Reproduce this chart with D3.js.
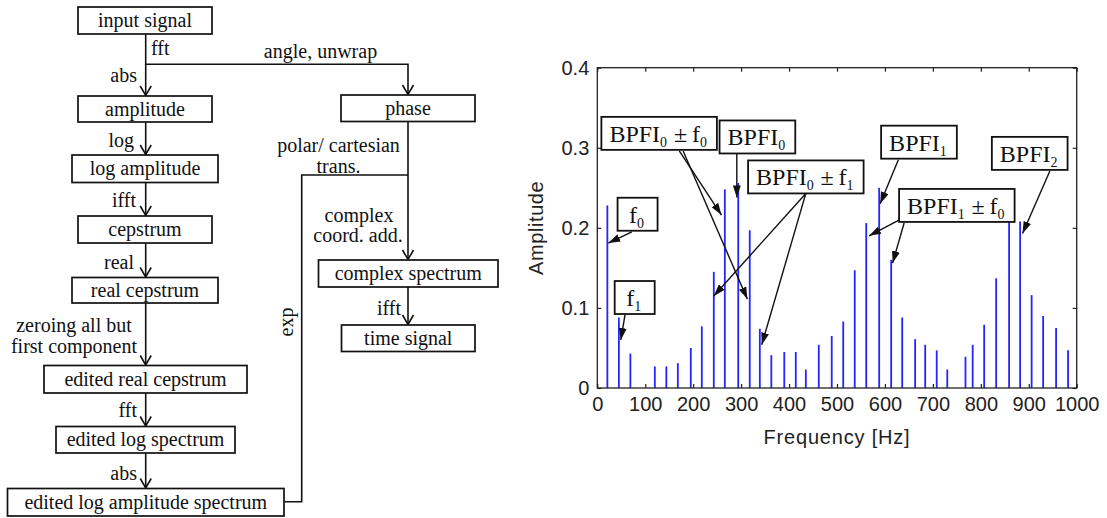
<!DOCTYPE html>
<html>
<head>
<meta charset="utf-8">
<script src="https://cdn.jsdelivr.net/npm/d3@7"></script>
<style>
  body { margin: 0; background: #fff; }
  svg { display: block; }
</style>
</head>
<body>
<div id="chart"></div>
<script>
// spectrum lines
const freqs = [21, 45, 69, 120, 144, 168, 195, 218, 243, 266, 294, 318, 339, 363, 390, 414, 435, 462,
    489, 513, 537, 561, 588, 613, 636, 663, 684, 708, 730, 768, 783, 807, 832, 859, 882, 906, 930, 957, 982];
const amps = [0.228, 0.088, 0.043, 0.027, 0.027, 0.031, 0.050, 0.077, 0.145, 0.248, 0.256, 0.197, 0.074,
    0.041, 0.045, 0.045, 0.023, 0.054, 0.065, 0.083, 0.147, 0.206, 0.250, 0.160, 0.088, 0.061, 0.054,
    0.047, 0.023, 0.039, 0.054, 0.079, 0.137, 0.215, 0.208, 0.116, 0.090, 0.075, 0.047];
const xTicks = [0, 100, 200, 300, 400, 500, 600, 700, 800, 900, 1000];
const yTicks = [0, 0.1, 0.2, 0.3, 0.4];

// annotation labels: text parts ([text, isSub]), box centre and arrows in data units
const annLabels = [
    [["f", 0], ["0", 1]],
    [["f", 0], ["1", 1]],
    [["BPFI", 0], ["0", 1], ["\u2009\u00b1\u2009f", 0], ["0", 1]],
    [["BPFI", 0], ["0", 1]],
    [["BPFI", 0], ["0", 1], ["\u2009\u00b1\u2009f", 0], ["1", 1]],
    [["BPFI", 0], ["1", 1]],
    [["BPFI", 0], ["1", 1], ["\u2009\u00b1\u2009f", 0], ["0", 1]],
    [["BPFI", 0], ["2", 1]]
];
const annCenters = [[84, 0.217], [78, 0.113], [129, 0.318], [334, 0.3135], [435, 0.2636],
    [671, 0.307], [750, 0.228], [902, 0.293]];
const annArrows = [
    [[72, 0.195], [23, 0.181]],
    [[58, 0.092], [49, 0.060]],
    [[171, 0.296], [259, 0.216]],
    [[179, 0.296], [313, 0.111]],
    [[291, 0.293], [291, 0.238]],
    [[435, 0.243], [243, 0.115]],
    [[435, 0.243], [343, 0.054]],
    [[628, 0.285], [590, 0.230]],
    [[633, 0.211], [567, 0.190]],
    [[640, 0.206], [616, 0.156]],
    [[944, 0.271], [887, 0.193]]
];

// flow chart of the processing steps (pixel layout)
const flowBoxes = [
    { label: "input signal", x0: 78, y0: 7, x1: 212, y1: 34 },
    { label: "amplitude", x0: 78, y0: 96, x1: 212, y1: 122 },
    { label: "log amplitude", x0: 72, y0: 155, x1: 218, y1: 182.5 },
    { label: "cepstrum", x0: 78, y0: 216, x1: 212, y1: 243 },
    { label: "real cepstrum", x0: 72, y0: 277.5, x1: 218, y1: 303 },
    { label: "edited real cepstrum", x0: 44, y0: 365.5, x1: 247, y1: 393 },
    { label: "edited log spectrum", x0: 56, y0: 426.5, x1: 235, y1: 453 },
    { label: "edited log amplitude spectrum", x0: 7.5, y0: 488.5, x1: 284, y1: 516 },
    { label: "phase", x0: 341, y0: 95, x1: 475, y1: 121.5 },
    { label: "complex spectrum", x0: 318.5, y0: 260, x1: 498, y1: 287 },
    { label: "time signal", x0: 341.5, y0: 325, x1: 475, y1: 351.5 }
];
const mainX = 145.7, sideX = 408;
const flowLinks = [
    { pts: [[mainX, 34], [mainX, 96]], arrow: true },
    { pts: [[mainX, 64.3], [sideX, 64.3], [sideX, 95]], arrow: true },
    { pts: [[mainX, 122], [mainX, 155]], arrow: true },
    { pts: [[mainX, 182.5], [mainX, 216]], arrow: true },
    { pts: [[mainX, 243], [mainX, 277.5]], arrow: true },
    { pts: [[mainX, 303], [mainX, 365.5]], arrow: true },
    { pts: [[mainX, 393], [mainX, 426.5]], arrow: true },
    { pts: [[mainX, 453], [mainX, 488.5]], arrow: true },
    { pts: [[284, 501.7], [301.7, 501.7], [301.7, 175], [sideX, 175]], arrow: false },
    { pts: [[sideX, 121.5], [sideX, 260]], arrow: true },
    { pts: [[sideX, 287], [sideX, 325]], arrow: true }
];
const flowTexts = [
    { t: "fft", x: 151, y: 48, a: "start" },
    { t: "abs", x: 137, y: 75, a: "end" },
    { t: "angle, unwrap", x: 320.5, y: 51, a: "middle" },
    { t: "log", x: 134, y: 140, a: "end" },
    { t: "ifft", x: 136, y: 200, a: "end" },
    { t: "real", x: 134, y: 262, a: "end" },
    { t: "zeroing all but", x: 74, y: 325, a: "middle" },
    { t: "first component", x: 74, y: 346.5, a: "middle" },
    { t: "fft", x: 137, y: 410, a: "end" },
    { t: "abs", x: 137, y: 473, a: "end" },
    { t: "polar/ cartesian", x: 338.5, y: 145, a: "middle" },
    { t: "trans.", x: 338.5, y: 166, a: "middle" },
    { t: "complex", x: 359, y: 215, a: "middle" },
    { t: "coord. add.", x: 358, y: 235, a: "middle" },
    { t: "ifft", x: 401, y: 308, a: "end" }
];

const W = 1107, H = 518;
const svg = d3.select("#chart").append("svg")
    .attr("width", W)
    .attr("height", H)
    .style("background", "#fff");

// ---------- flow chart ----------
const serif = "'Liberation Serif', 'Times New Roman', serif";
const flow = svg.append("g").attr("class", "flow");

flow.selectAll("polyline.link")
    .data(flowLinks)
    .enter().append("polyline")
    .attr("class", "link")
    .attr("points", d => d.pts.map(p => p.join(",")).join(" "))
    .attr("fill", "none")
    .attr("stroke", "#111")
    .attr("stroke-width", 1.6);

flow.selectAll("polyline.head")
    .data(flowLinks.filter(d => d.arrow))
    .enter().append("polyline")
    .attr("class", "head")
    .attr("points", d => {
        const [x, y] = d.pts[d.pts.length - 1];
        return `${x - 5.5},${y - 10} ${x},${y - 0.5} ${x + 5.5},${y - 10}`;
    })
    .attr("fill", "none")
    .attr("stroke", "#111")
    .attr("stroke-width", 1.6);

flow.selectAll("rect.box")
    .data(flowBoxes)
    .enter().append("rect")
    .attr("class", "box")
    .attr("x", d => d.x0)
    .attr("y", d => d.y0)
    .attr("width", d => d.x1 - d.x0)
    .attr("height", d => d.y1 - d.y0)
    .attr("fill", "#fff")
    .attr("stroke", "#111")
    .attr("stroke-width", 1.7);

flow.selectAll("text.boxlabel")
    .data(flowBoxes)
    .enter().append("text")
    .attr("class", "boxlabel")
    .attr("x", d => (d.x0 + d.x1) / 2)
    .attr("y", d => (d.y0 + d.y1) / 2)
    .attr("dy", "0.33em")
    .attr("text-anchor", "middle")
    .style("font-family", serif)
    .style("font-size", "20px")
    .style("fill", "#111")
    .text(d => d.label);

flow.selectAll("text.steplabel")
    .data(flowTexts)
    .enter().append("text")
    .attr("class", "steplabel")
    .attr("x", d => d.x)
    .attr("y", d => d.y)
    .attr("dy", "0.33em")
    .attr("text-anchor", d => d.a)
    .style("font-family", serif)
    .style("font-size", "20px")
    .style("fill", "#111")
    .text(d => d.t);

flow.append("text")
    .attr("transform", "translate(286.5,322) rotate(-90)")
    .attr("dy", "0.33em")
    .attr("text-anchor", "middle")
    .style("font-family", serif)
    .style("font-size", "20px")
    .style("fill", "#111")
    .text("exp");

// ---------- spectrum plot ----------
const sans = "'Liberation Sans', Arial, sans-serif";
const x = d3.scaleLinear().domain([0, 1000]).range([597.3, 1076.7]);
const y = d3.scaleLinear().domain([0, 0.4]).range([388, 67.7]);
const plot = svg.append("g").attr("class", "plot");

plot.selectAll("line.bar")
    .data(freqs.map((f, i) => ({ f, a: amps[i] })))
    .enter().append("line")
    .attr("class", "bar")
    .attr("x1", d => x(d.f))
    .attr("x2", d => x(d.f))
    .attr("y1", y(0))
    .attr("y2", d => y(d.a))
    .attr("stroke", "#2424ff")
    .attr("stroke-width", 1.8);

function styleAxis(g, showText) {
    g.select(".domain").remove();
    g.selectAll(".tick line").attr("stroke", "#222").attr("stroke-width", 1.2);
    g.selectAll(".tick text")
        .style("font-family", sans)
        .style("font-size", "20px")
        .style("fill", "#222")
        .style("display", showText ? null : "none");
}

plot.append("g")
    .attr("transform", `translate(0,${y(0)})`)
    .call(d3.axisBottom(x).tickValues(xTicks).tickFormat(d3.format("d"))
        .tickSizeInner(-4).tickSizeOuter(0).tickPadding(9))
    .call(g => styleAxis(g, true));

plot.append("g")
    .attr("transform", `translate(0,${y(0.4)})`)
    .call(d3.axisTop(x).tickValues(xTicks).tickSizeInner(-4).tickSizeOuter(0))
    .call(g => styleAxis(g, false));

plot.append("g")
    .attr("transform", `translate(${x(0)},0)`)
    .call(d3.axisLeft(y).tickValues(yTicks).tickFormat(d => d === 0 ? "0" : d3.format(".1f")(d))
        .tickSizeInner(-4).tickSizeOuter(0).tickPadding(8))
    .call(g => styleAxis(g, true));

plot.append("g")
    .attr("transform", `translate(${x(1000)},0)`)
    .call(d3.axisRight(y).tickValues(yTicks).tickSizeInner(-4).tickSizeOuter(0))
    .call(g => styleAxis(g, false));

plot.append("rect")
    .attr("x", x(0))
    .attr("y", y(0.4))
    .attr("width", x(1000) - x(0))
    .attr("height", y(0) - y(0.4))
    .attr("fill", "none")
    .attr("stroke", "#222")
    .attr("stroke-width", 1.3);

plot.append("text")
    .attr("x", (x(0) + x(1000)) / 2)
    .attr("y", 437)
    .attr("dy", "0.35em")
    .attr("text-anchor", "middle")
    .style("font-family", sans)
    .style("font-size", "20px")
    .style("letter-spacing", "0.8px")
    .style("fill", "#222")
    .text("Frequency [Hz]");

plot.append("text")
    .attr("transform", `translate(536,${(y(0) + y(0.4)) / 2}) rotate(-90)`)
    .attr("dy", "0.35em")
    .attr("text-anchor", "middle")
    .style("font-family", sans)
    .style("font-size", "20px")
    .style("letter-spacing", "0.6px")
    .style("fill", "#222")
    .text("Amplitude");

// annotation arrows
svg.append("defs").append("marker")
    .attr("id", "tri")
    .attr("viewBox", "0 0 12 8")
    .attr("refX", 12)
    .attr("refY", 4)
    .attr("markerWidth", 12)
    .attr("markerHeight", 8)
    .attr("markerUnits", "userSpaceOnUse")
    .attr("orient", "auto")
    .append("path")
    .attr("d", "M0,0 L12,4 L0,8 Z")
    .attr("fill", "#111");

plot.selectAll("line.ann")
    .data(annArrows)
    .enter().append("line")
    .attr("class", "ann")
    .attr("x1", d => x(d[0][0]))
    .attr("y1", d => y(d[0][1]))
    .attr("x2", d => x(d[1][0]))
    .attr("y2", d => y(d[1][1]))
    .attr("stroke", "#111")
    .attr("stroke-width", 1.4)
    .attr("marker-end", "url(#tri)");

// annotation boxes
annLabels.forEach((parts, i) => {
    const g = plot.append("g")
        .attr("transform", `translate(${x(annCenters[i][0])},${y(annCenters[i][1])})`);
    const rect = g.append("rect");
    const txt = g.append("text")
        .attr("y", 0)
        .attr("dy", "0.35em")
        .style("font-family", serif)
        .style("font-size", "24px")
        .style("fill", "#111");
    parts.forEach(p => {
        txt.append("tspan")
            .style("font-size", p[1] ? "14px" : "24px")
            .attr("dy", p[1] ? 5 : null)
            .text(p[0]);
        if (p[1]) txt.append("tspan").attr("dy", -5).text("\u200a");
    });
    const bb = txt.node().getBBox();
    txt.attr("x", -bb.width / 2);
    const bw = Math.max(bb.width + 16, 40), bh = 33;
    rect.attr("x", -bw / 2)
        .attr("y", -bh / 2)
        .attr("width", bw)
        .attr("height", bh)
        .attr("fill", "#fff")
        .attr("stroke", "#111")
        .attr("stroke-width", 1.8);
});
</script>
</body>
</html>
